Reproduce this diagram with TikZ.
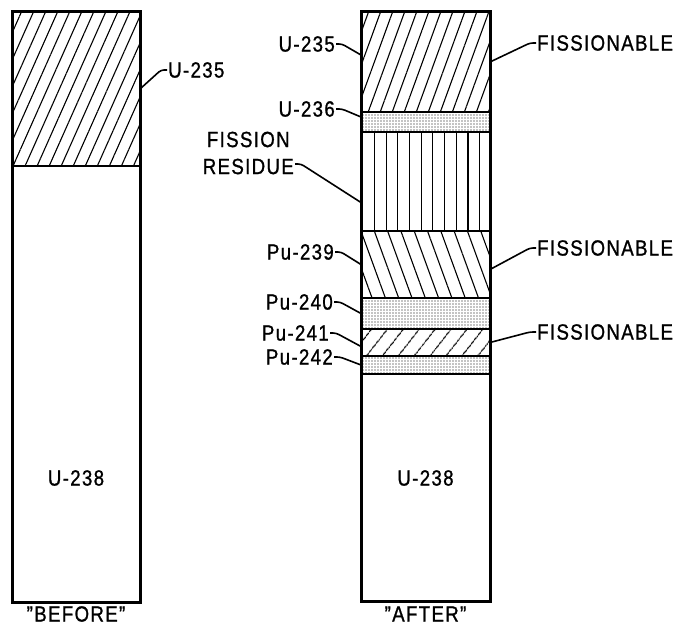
\documentclass[tikz,border=0pt]{standalone}
\usepackage{fontspec}
\setmainfont{Liberation Sans}[LetterSpace=6, FakeStretch=0.85, FakeBold=1]
\usepackage{tikz}
\usetikzlibrary{positioning,patterns.meta}

\begin{document}
\begin{tikzpicture}[x=1pt, y=-1pt,
  band/.style={rectangle, draw, line width=1.8pt, minimum width=129pt, inner sep=0pt, outer sep=0pt},
  column/.style={draw, line width=3pt},
  stipple/.style={pattern={Dots[radius=0.6pt, distance=3pt]}},
  tag/.style={inner sep=1pt, font=\fontsize{22}{27}\selectfont},
  lead/.style={line width=1.6pt, rounded corners=3pt},
  node distance=0pt
]
\useasboundingbox (0,0) rectangle (675,628);

\node[band, minimum width=128pt, minimum height=154pt, pattern={Lines[angle=66, distance=11pt, line width=1.1pt]}] (lu235) at (76,89) {};
\node[band, minimum width=128pt, minimum height=436pt, below=of lu235] (lu238) {};
\draw[column] (lu235.north west) rectangle (lu238.south east);

\node[band, minimum height=100pt, pattern={Lines[angle=70, distance=11.3pt, line width=1.1pt]}] (ru235) at (425.5,62) {};
\node[band, minimum height=20pt, stipple, below=of ru235] (ru236) {};
\node[band, minimum height=99pt, pattern={Lines[angle=90, distance=11.7pt, line width=1.1pt]}, below=of ru236] (resid) {};
\node[band, minimum height=67pt, pattern={Lines[angle=110, distance=12.5pt, line width=1.1pt]}, below=of resid] (pu239) {};
\node[band, minimum height=31pt, stipple, below=of pu239] (pu240) {};
\node[band, minimum height=27pt, pattern={Lines[angle=52, distance=13pt, line width=1.3pt]}, below=of pu240] (pu241) {};
\node[band, minimum height=18pt, stipple, below=of pu241] (pu242) {};
\node[band, minimum height=227pt, below=of pu242] (ru238) {};
\draw[column] (ru235.north west) rectangle (ru238.south east);

\node[tag, anchor=west] (tl235) at (167,70) {U-235};
\draw[lead] (tl235.west) -- ++(-6pt,0) -- (lu235.east);
\node[tag] (tl238) at (76,478) {U-238};
\node[tag] (before) at (76,614) {\symbol{34}BEFORE\symbol{34}};

\node[tag, anchor=east] (tr235) at (336,44) {U-235};
\node[tag, anchor=east] (tr236) at (336,109) {U-236};
\node[tag, anchor=east, align=center] (tres) at (295,153) {FISSION\\RESIDUE};
\node[tag, anchor=east] (t239) at (335,252) {Pu-239};
\node[tag, anchor=east] (t240) at (334,302) {Pu-240};
\node[tag, anchor=east] (t241) at (330,333) {Pu-241};
\node[tag, anchor=east] (t242) at (334,357) {Pu-242};
\draw[lead] (tr235.east) -- ++(6pt,0) -- ([yshift=7pt]ru235.west);
\draw[lead] (tr236.east) -- ++(6pt,0) -- ([yshift=5pt]ru236.west);
\draw[lead] ([yshift=-11pt]tres.east) -- ++(6pt,0) -- ([yshift=-21pt]resid.west);
\draw[lead] (t239.east) -- ++(6pt,0) -- (pu239.west);
\draw[lead] (t240.east) -- ++(6pt,0) -- (pu240.west);
\draw[lead] (t241.east) -- ++(6pt,0) -- ([yshift=-4pt]pu241.west);
\draw[lead] (t242.east) -- ++(6pt,0) -- (pu242.west);

\node[tag, anchor=west] (fis1) at (536,43) {FISSIONABLE};
\node[tag, anchor=west] (fis2) at (536,248) {FISSIONABLE};
\node[tag, anchor=west] (fis3) at (536,332) {FISSIONABLE};
\draw[lead] (fis1.west) -- ++(-6pt,0) -- (ru235.east);
\draw[lead] (fis2.west) -- ++(-6pt,0) -- ([yshift=-5pt]pu239.east);
\draw[lead] (fis3.west) -- ++(-6pt,0) -- (pu241.east);

\node[tag] (tr238) at (425.5,478) {U-238};
\node[tag] (after) at (425.5,614) {\symbol{34}AFTER\symbol{34}};
\end{tikzpicture}
\end{document}
